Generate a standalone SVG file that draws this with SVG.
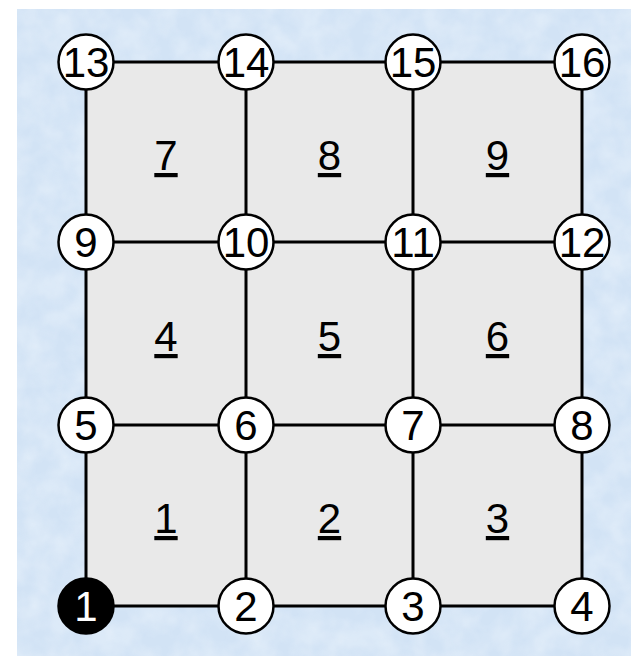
<svg xmlns="http://www.w3.org/2000/svg" width="631" height="656" viewBox="0 0 631 656">
<style>
.edge{stroke:#000;stroke-width:3;fill:none}
.node circle{fill:#fff;stroke:#000;stroke-width:2.5}
.node text{font-family:"Liberation Sans",Arial,sans-serif;font-size:42px;text-anchor:middle;fill:#000}
.node.start circle{fill:#000}
.node.start text{fill:#fff}
.face text{font-family:"Liberation Sans",Arial,sans-serif;font-size:42px;text-anchor:middle;fill:#000;text-decoration:underline}
</style>
<defs>
<filter id="tex" x="0" y="0" width="100%" height="100%">
<feTurbulence type="fractalNoise" baseFrequency="0.04" numOctaves="3" seed="3" result="n"/>
<feColorMatrix in="n" type="matrix" values="0 0 0 0 0.86  0 0 0 0 0.92  0 0 0 0 0.98  0 0 0 -1.4 1.0" result="c"/>
<feComposite in="c" in2="SourceGraphic" operator="in"/>
</filter>
</defs>
<rect x="0" y="0" width="631" height="656" fill="#fff"/>
<rect x="17" y="9" width="614" height="647" fill="#d2e3f5"/>
<rect x="17" y="9" width="614" height="647" fill="#fff" filter="url(#tex)" opacity="0.6"/>
<rect x="86" y="62" width="496" height="544" fill="#e9e9e9"/>
<g id="faces">
<g class="face" id="face1"><text x="166" y="533">1</text></g>
<g class="face" id="face2"><text x="329.5" y="533">2</text></g>
<g class="face" id="face3"><text x="497.5" y="533">3</text></g>
<g class="face" id="face4"><text x="166" y="351">4</text></g>
<g class="face" id="face5"><text x="329.5" y="351">5</text></g>
<g class="face" id="face6"><text x="497.5" y="351">6</text></g>
<g class="face" id="face7"><text x="166" y="170">7</text></g>
<g class="face" id="face8"><text x="329.5" y="170">8</text></g>
<g class="face" id="face9"><text x="497.5" y="170">9</text></g>
</g>
<g id="connectors">
<line class="edge" x1="86" y1="62" x2="582" y2="62"/>
<line class="edge" x1="86" y1="242" x2="582" y2="242"/>
<line class="edge" x1="86" y1="425" x2="582" y2="425"/>
<line class="edge" x1="86" y1="606" x2="582" y2="606"/>
<line class="edge" x1="86" y1="62" x2="86" y2="606"/>
<line class="edge" x1="246" y1="62" x2="246" y2="606"/>
<line class="edge" x1="413" y1="62" x2="413" y2="606"/>
<line class="edge" x1="582" y1="62" x2="582" y2="606"/>
</g>
<g id="nodes">
<g class="node start" id="n1"><circle cx="86" cy="606" r="27.5"/><text x="86" y="621">1</text></g>
<g class="node" id="n2"><circle cx="246" cy="606" r="27.5"/><text x="246" y="621">2</text></g>
<g class="node" id="n3"><circle cx="413" cy="606" r="27.5"/><text x="413" y="621">3</text></g>
<g class="node" id="n4"><circle cx="582" cy="606" r="27.5"/><text x="582" y="621">4</text></g>
<g class="node" id="n5"><circle cx="86" cy="425" r="27.5"/><text x="86" y="440">5</text></g>
<g class="node" id="n6"><circle cx="246" cy="425" r="27.5"/><text x="246" y="440">6</text></g>
<g class="node" id="n7"><circle cx="413" cy="425" r="27.5"/><text x="413" y="440">7</text></g>
<g class="node" id="n8"><circle cx="582" cy="425" r="27.5"/><text x="582" y="440">8</text></g>
<g class="node" id="n9"><circle cx="86" cy="242" r="27.5"/><text x="86" y="257">9</text></g>
<g class="node" id="n10"><circle cx="246" cy="242" r="27.5"/><text x="246" y="257">10</text></g>
<g class="node" id="n11"><circle cx="413" cy="242" r="27.5"/><text x="413" y="257">11</text></g>
<g class="node" id="n12"><circle cx="582" cy="242" r="27.5"/><text x="582" y="257">12</text></g>
<g class="node" id="n13"><circle cx="86" cy="62" r="27.5"/><text x="86" y="77">13</text></g>
<g class="node" id="n14"><circle cx="246" cy="62" r="27.5"/><text x="246" y="77">14</text></g>
<g class="node" id="n15"><circle cx="413" cy="62" r="27.5"/><text x="413" y="77">15</text></g>
<g class="node" id="n16"><circle cx="582" cy="62" r="27.5"/><text x="582" y="77">16</text></g>
</g>
</svg>
